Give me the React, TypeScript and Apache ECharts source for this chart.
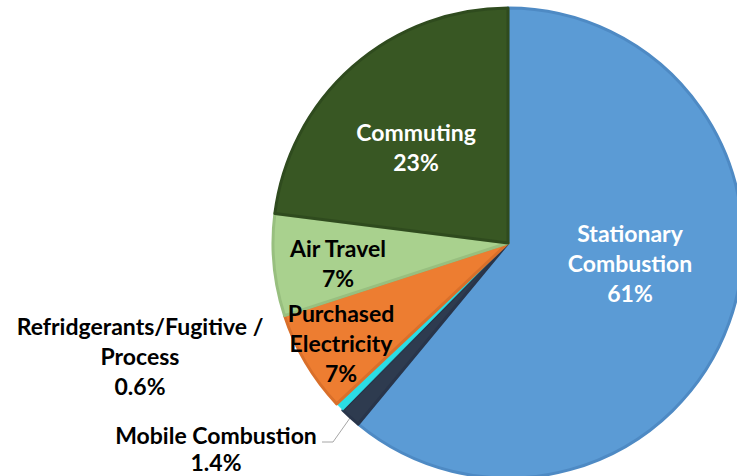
import React, { useEffect, useRef } from "react";
import * as echarts from "echarts";

const categories = [
  "Stationary\nCombustion",
  "Mobile Combustion",
  "Refridgerants/Fugitive /\nProcess",
  "Purchased\nElectricity",
  "Air Travel",
  "Commuting",
];
const values = [61, 1.4, 0.6, 7, 7, 23];
const valueLabels = ["61%", "1.4%", "0.6%", "7%", "7%", "23%"];
const fills = ["#5B9BD5", "#2E3B4F", "#2BDDE4", "#ED7D31", "#A9D18E", "#385723"];
const borders = ["#4E8AC4", "#29354A", "#2BDDE4", "#D96F2A", "#98BF7F", "#2F4B1E"];
const textColors = ["#FFFFFF", "#000000", "#000000", "#000000", "#000000", "#FFFFFF"];
const labelPos: [number, number][] = [
  [630, 263],
  [216, 448],
  [140, 356],
  [341, 343],
  [338, 263],
  [416, 147],
];

export default function App() {
  const ref = useRef<HTMLDivElement>(null);
  useEffect(() => {
    if (!ref.current) return;
    const chart = echarts.init(ref.current, undefined, { renderer: "svg" });
    chart.setOption({
      animation: false,
      backgroundColor: "#FFFFFF",
      series: [
        {
          type: "pie",
          center: [508, 243],
          radius: 235,
          startAngle: 90,
          clockwise: true,
          avoidLabelOverlap: false,
          data: categories.map((name, i) => ({
            name,
            value: values[i],
            itemStyle: {
              color: fills[i],
              borderColor: borders[i],
              borderWidth: i === 2 ? 0.5 : 3,
            },
            label: {
              show: true,
              position: i === 1 ? "outside" : "inside",
              color: textColors[i],
              lineHeight: i === 1 ? 27 : 30,
            },
            labelLine: {
              show: i === 1,
              lineStyle: { color: "#A6A6A6", width: 1 },
            },
          })),
          label: {
            fontFamily: "Lato",
            fontWeight: "bold",
            fontSize: 23,
            lineHeight: 30,
            align: "center",
            formatter: (p: any) => `${p.name}\n${valueLabels[p.dataIndex]}`,
          },
          labelLayout: (p: any) => {
            const [x, y] = labelPos[p.dataIndex];
            const res: any = { x, y, align: "center", verticalAlign: "middle" };
            if (p.dataIndex === 1) {
              res.labelLinePoints = [
                [350, 418],
                [333, 442],
                [322, 442],
              ];
            }
            return res;
          },
        },
      ],
    });
    return () => chart.dispose();
  }, []);
  return (
    <div
      ref={ref}
      style={{ position: "fixed", left: 0, top: 0, width: 737, height: 476 }}
    />
  );
}
